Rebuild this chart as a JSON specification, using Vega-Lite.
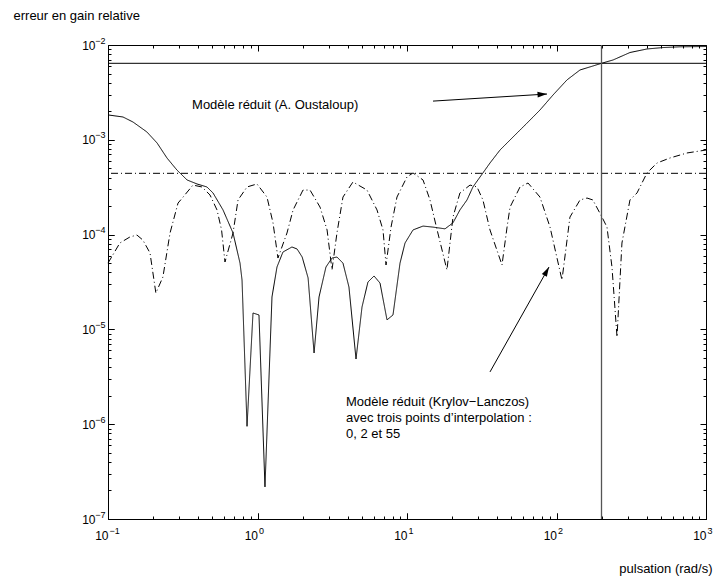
{
  "$schema": "https://vega.github.io/schema/vega-lite/v6.json",
  "width": 598,
  "height": 474,
  "autosize": {"type": "none"},
  "padding": {"left": 108, "top": 45, "right": 12, "bottom": 62},
  "background": "white",
  "config": {
    "view": {"stroke": null},
    "font": "Liberation Sans",
    "axis": {
      "grid": false,
      "labelFont": "Liberation Sans",
      "labelFontSize": 12,
      "labelColor": "black",
      "tickColor": "black",
      "tickWidth": 1,
      "domainColor": "black",
      "domainWidth": 1,
      "titleFont": "Liberation Sans",
      "titleFontSize": 13,
      "titleFontWeight": "normal",
      "titleColor": "black",
      "labelFlush": false,
      "labelOverlap": false
    }
  },
  "datasets": {
    "courbes": [
      {"serie": "Oustaloup", "w": 0.1, "e": 0.00183},
      {"serie": "Oustaloup", "w": 0.126, "e": 0.00174},
      {"serie": "Oustaloup", "w": 0.147, "e": 0.00154},
      {"serie": "Oustaloup", "w": 0.182, "e": 0.00121},
      {"serie": "Oustaloup", "w": 0.213, "e": 0.000925},
      {"serie": "Oustaloup", "w": 0.248, "e": 0.000643},
      {"serie": "Oustaloup", "w": 0.289, "e": 0.00048},
      {"serie": "Oustaloup", "w": 0.338, "e": 0.000377},
      {"serie": "Oustaloup", "w": 0.394, "e": 0.000342},
      {"serie": "Oustaloup", "w": 0.459, "e": 0.000318},
      {"serie": "Oustaloup", "w": 0.504, "e": 0.000275},
      {"serie": "Oustaloup", "w": 0.588, "e": 0.000182},
      {"serie": "Oustaloup", "w": 0.686, "e": 0.000104},
      {"serie": "Oustaloup", "w": 0.764, "e": 0.00005},
      {"serie": "Oustaloup", "w": 0.788, "e": 0.0000332},
      {"serie": "Oustaloup", "w": 0.851, "e": 0.00000095},
      {"serie": "Oustaloup", "w": 0.933, "e": 0.0000149},
      {"serie": "Oustaloup", "w": 1.023, "e": 0.0000142},
      {"serie": "Oustaloup", "w": 1.122, "e": 0.000000218},
      {"serie": "Oustaloup", "w": 1.25, "e": 0.000022},
      {"serie": "Oustaloup", "w": 1.35, "e": 0.0000455},
      {"serie": "Oustaloup", "w": 1.48, "e": 0.0000655},
      {"serie": "Oustaloup", "w": 1.7, "e": 0.000074},
      {"serie": "Oustaloup", "w": 1.84, "e": 0.0000705},
      {"serie": "Oustaloup", "w": 1.99, "e": 0.000058},
      {"serie": "Oustaloup", "w": 2.18, "e": 0.0000349},
      {"serie": "Oustaloup", "w": 2.39, "e": 0.00000564},
      {"serie": "Oustaloup", "w": 2.58, "e": 0.000022},
      {"serie": "Oustaloup", "w": 2.87, "e": 0.0000455},
      {"serie": "Oustaloup", "w": 3.15, "e": 0.0000566},
      {"serie": "Oustaloup", "w": 3.4, "e": 0.000058},
      {"serie": "Oustaloup", "w": 3.73, "e": 0.00005},
      {"serie": "Oustaloup", "w": 4.09, "e": 0.000028},
      {"serie": "Oustaloup", "w": 4.56, "e": 0.00000487},
      {"serie": "Oustaloup", "w": 5.0, "e": 0.0000172},
      {"serie": "Oustaloup", "w": 5.48, "e": 0.0000316},
      {"serie": "Oustaloup", "w": 6.02, "e": 0.0000366},
      {"serie": "Oustaloup", "w": 6.6, "e": 0.0000308},
      {"serie": "Oustaloup", "w": 7.35, "e": 0.0000126},
      {"serie": "Oustaloup", "w": 8.06, "e": 0.0000142},
      {"serie": "Oustaloup", "w": 8.98, "e": 0.00005},
      {"serie": "Oustaloup", "w": 9.7, "e": 0.0000815},
      {"serie": "Oustaloup", "w": 10.97, "e": 0.000112},
      {"serie": "Oustaloup", "w": 12.8, "e": 0.000123},
      {"serie": "Oustaloup", "w": 14.9, "e": 0.00012},
      {"serie": "Oustaloup", "w": 17.96, "e": 0.000115},
      {"serie": "Oustaloup", "w": 20.3, "e": 0.000133},
      {"serie": "Oustaloup", "w": 22.6, "e": 0.000182},
      {"serie": "Oustaloup", "w": 25.2, "e": 0.000232},
      {"serie": "Oustaloup", "w": 27.6, "e": 0.000318},
      {"serie": "Oustaloup", "w": 32.2, "e": 0.000447},
      {"serie": "Oustaloup", "w": 35.9, "e": 0.000569},
      {"serie": "Oustaloup", "w": 41.9, "e": 0.00078},
      {"serie": "Oustaloup", "w": 51.2, "e": 0.00107},
      {"serie": "Oustaloup", "w": 63.5, "e": 0.0015},
      {"serie": "Oustaloup", "w": 77.5, "e": 0.00206},
      {"serie": "Oustaloup", "w": 94.8, "e": 0.00297},
      {"serie": "Oustaloup", "w": 117.5, "e": 0.00428},
      {"serie": "Oustaloup", "w": 143.6, "e": 0.00545},
      {"serie": "Oustaloup", "w": 175, "e": 0.006},
      {"serie": "Oustaloup", "w": 200, "e": 0.00641},
      {"serie": "Oustaloup", "w": 239, "e": 0.00695},
      {"serie": "Oustaloup", "w": 310, "e": 0.00833},
      {"serie": "Oustaloup", "w": 403, "e": 0.00908},
      {"serie": "Oustaloup", "w": 516, "e": 0.0094},
      {"serie": "Oustaloup", "w": 670, "e": 0.00957},
      {"serie": "Oustaloup", "w": 1000, "e": 0.00964},
      {"serie": "Krylov", "w": 0.1, "e": 0.00005},
      {"serie": "Krylov", "w": 0.12, "e": 0.0000815},
      {"serie": "Krylov", "w": 0.14, "e": 0.0000943},
      {"serie": "Krylov", "w": 0.156, "e": 0.000099},
      {"serie": "Krylov", "w": 0.171, "e": 0.0000877},
      {"serie": "Krylov", "w": 0.191, "e": 0.000064},
      {"serie": "Krylov", "w": 0.209, "e": 0.0000242},
      {"serie": "Krylov", "w": 0.233, "e": 0.0000357},
      {"serie": "Krylov", "w": 0.26, "e": 0.000104},
      {"serie": "Krylov", "w": 0.294, "e": 0.000215},
      {"serie": "Krylov", "w": 0.318, "e": 0.000249},
      {"serie": "Krylov", "w": 0.37, "e": 0.000333},
      {"serie": "Krylov", "w": 0.425, "e": 0.000318},
      {"serie": "Krylov", "w": 0.481, "e": 0.000262},
      {"serie": "Krylov", "w": 0.536, "e": 0.000182},
      {"serie": "Krylov", "w": 0.575, "e": 0.000112},
      {"serie": "Krylov", "w": 0.606, "e": 0.0000514},
      {"serie": "Krylov", "w": 0.686, "e": 0.000104},
      {"serie": "Krylov", "w": 0.741, "e": 0.000232},
      {"serie": "Krylov", "w": 0.851, "e": 0.000318},
      {"serie": "Krylov", "w": 0.992, "e": 0.000342},
      {"serie": "Krylov", "w": 1.157, "e": 0.000249},
      {"serie": "Krylov", "w": 1.27, "e": 0.000133},
      {"serie": "Krylov", "w": 1.37, "e": 0.0000566},
      {"serie": "Krylov", "w": 1.575, "e": 0.000104},
      {"serie": "Krylov", "w": 1.73, "e": 0.000182},
      {"serie": "Krylov", "w": 2.015, "e": 0.000295},
      {"serie": "Krylov", "w": 2.245, "e": 0.000295},
      {"serie": "Krylov", "w": 2.62, "e": 0.000195},
      {"serie": "Krylov", "w": 2.92, "e": 0.000112},
      {"serie": "Krylov", "w": 3.15, "e": 0.0000424},
      {"serie": "Krylov", "w": 3.4, "e": 0.000104},
      {"serie": "Krylov", "w": 3.73, "e": 0.000249},
      {"serie": "Krylov", "w": 4.35, "e": 0.000359},
      {"serie": "Krylov", "w": 5.4, "e": 0.000295},
      {"serie": "Krylov", "w": 6.3, "e": 0.000182},
      {"serie": "Krylov", "w": 6.91, "e": 0.000112},
      {"serie": "Krylov", "w": 7.24, "e": 0.0000478},
      {"serie": "Krylov", "w": 7.82, "e": 0.00012},
      {"serie": "Krylov", "w": 8.57, "e": 0.000249},
      {"serie": "Krylov", "w": 10.0, "e": 0.000406},
      {"serie": "Krylov", "w": 10.97, "e": 0.000447},
      {"serie": "Krylov", "w": 12.8, "e": 0.000377},
      {"serie": "Krylov", "w": 14.25, "e": 0.000232},
      {"serie": "Krylov", "w": 15.9, "e": 0.000112},
      {"serie": "Krylov", "w": 18.5, "e": 0.0000424},
      {"serie": "Krylov", "w": 20.3, "e": 0.000153},
      {"serie": "Krylov", "w": 22.6, "e": 0.000275},
      {"serie": "Krylov", "w": 26.4, "e": 0.000333},
      {"serie": "Krylov", "w": 29.4, "e": 0.000318},
      {"serie": "Krylov", "w": 32.2, "e": 0.000232},
      {"serie": "Krylov", "w": 35.9, "e": 0.000112},
      {"serie": "Krylov", "w": 43.2, "e": 0.0000478},
      {"serie": "Krylov", "w": 46.7, "e": 0.00012},
      {"serie": "Krylov", "w": 48.9, "e": 0.000195},
      {"serie": "Krylov", "w": 57.0, "e": 0.000318},
      {"serie": "Krylov", "w": 64.5, "e": 0.00035},
      {"serie": "Krylov", "w": 77.5, "e": 0.000249},
      {"serie": "Krylov", "w": 90.5, "e": 0.00012},
      {"serie": "Krylov", "w": 108.8, "e": 0.0000332},
      {"serie": "Krylov", "w": 123, "e": 0.000153},
      {"serie": "Krylov", "w": 143.6, "e": 0.000232},
      {"serie": "Krylov", "w": 160, "e": 0.000243},
      {"serie": "Krylov", "w": 175, "e": 0.000232},
      {"serie": "Krylov", "w": 201.5, "e": 0.000153},
      {"serie": "Krylov", "w": 217.6, "e": 0.00012},
      {"serie": "Krylov", "w": 235, "e": 0.0000455},
      {"serie": "Krylov", "w": 254, "e": 0.0000083},
      {"serie": "Krylov", "w": 274, "e": 0.0000815},
      {"serie": "Krylov", "w": 310, "e": 0.000232},
      {"serie": "Krylov", "w": 345.6, "e": 0.000275},
      {"serie": "Krylov", "w": 403, "e": 0.000447},
      {"serie": "Krylov", "w": 470, "e": 0.000569},
      {"serie": "Krylov", "w": 574, "e": 0.000643},
      {"serie": "Krylov", "w": 746, "e": 0.000726},
      {"serie": "Krylov", "w": 1000, "e": 0.00078}
    ],
    "seuils": [
      {"serie": "Oustaloup", "e": 0.00641},
      {"serie": "Krylov", "e": 0.000443}
    ],
    "coupure": [{"w": 200}],
    "textes": [
      {"w": 0.365, "e": 0.00233, "texte": "Modèle réduit (A. Oustaloup)"},
      {"w": 3.91, "e": 0.00000171, "texte": "Modèle réduit (Krylov−Lanczos)"},
      {"w": 3.91, "e": 0.00000116, "texte": "avec trois points d’interpolation :"},
      {"w": 3.91, "e": 0.000000788, "texte": "0, 2 et 55"}
    ],
    "fleches": [
      {"fleche": 1, "w": 14.93, "e": 0.00256},
      {"fleche": 1, "w": 86.4, "e": 0.00304},
      {"fleche": 2, "w": 35.9, "e": 0.00000356},
      {"fleche": 2, "w": 89.1, "e": 0.0000455}
    ],
    "pointes": [
      {"fleche": 1, "w": 86.4, "e": 0.00304},
      {"fleche": 2, "w": 89.1, "e": 0.0000455}
    ]
  },
  "layer": [
    {
      "data": {"name": "courbes"},
      "mark": {"type": "line", "color": "black", "strokeWidth": 1, "interpolate": "linear"},
      "encoding": {
        "x": {
          "field": "w", "type": "quantitative",
          "scale": {"type": "log", "domain": [0.1, 1000], "nice": false},
          "axis": {
            "orient": "bottom",
            "values": [0.1, 1, 10, 100, 1000],
            "labelExpr": "'10'",
            "labelAlign": "right",
            "labelBaseline": "middle",
            "labelOffset": 0,
            "tickSize": -6,
            "labelPadding": 22.5,
            "domain": true,
            "title": "pulsation (rad/s)",
            "titleAngle": 0,
            "titleAlign": "right",
            "titleBaseline": "middle",
            "titleX": 604,
            "titleY": 49
          }
        },
        "y": {
          "field": "e", "type": "quantitative",
          "scale": {"type": "log", "domain": [1e-7, 0.01], "nice": false},
          "axis": {
            "orient": "left",
            "values": [1e-7, 1e-6, 1e-5, 1e-4, 1e-3, 1e-2],
            "labelExpr": "'10'",
            "labelAlign": "right",
            "labelBaseline": "middle",
            "tickSize": -6,
            "labelPadding": 19,
            "domain": true,
            "title": "erreur en gain relative",
            "titleAngle": 0,
            "titleAlign": "left",
            "titleBaseline": "middle",
            "titleX": -95,
            "titleY": -30
          }
        },
        "detail": {"field": "serie"},
        "strokeDash": {
          "field": "serie", "type": "nominal",
          "scale": {"domain": ["Oustaloup", "Krylov"], "range": [[1, 0], [7, 3, 1, 3]]},
          "legend": null
        }
      }
    },
    {
      "data": {"name": "textes"},
      "mark": {"type": "text", "align": "left", "baseline": "middle", "fontSize": 13, "font": "Liberation Sans", "color": "black"},
      "encoding": {
        "x": {
          "field": "w", "type": "quantitative",
          "scale": {"type": "log", "domain": [0.1, 1000], "nice": false},
          "axis": {
            "orient": "bottom",
            "values": [0.2, 0.3, 0.4, 0.5, 0.6, 0.7, 0.8, 0.9, 2, 3, 4, 5, 6, 7, 8, 9, 20, 30, 40, 50, 60, 70, 80, 90, 200, 300, 400, 500, 600, 700, 800, 900],
            "labels": false, "domain": false, "tickSize": -3, "title": null
          }
        },
        "y": {
          "field": "e", "type": "quantitative",
          "scale": {"type": "log", "domain": [1e-7, 0.01], "nice": false},
          "axis": {
            "orient": "left",
            "values": [2e-7, 3e-7, 4e-7, 5e-7, 6e-7, 7e-7, 8e-7, 9e-7, 2e-6, 3e-6, 4e-6, 5e-6, 6e-6, 7e-6, 8e-6, 9e-6, 2e-5, 3e-5, 4e-5, 5e-5, 6e-5, 7e-5, 8e-5, 9e-5, 2e-4, 3e-4, 4e-4, 5e-4, 6e-4, 7e-4, 8e-4, 9e-4, 2e-3, 3e-3, 4e-3, 5e-3, 6e-3, 7e-3, 8e-3, 9e-3],
            "labels": false, "domain": false, "tickSize": -3, "title": null
          }
        },
        "text": {"field": "texte"}
      }
    },
    {
      "data": {"name": "fleches"},
      "mark": {"type": "line", "color": "black", "strokeWidth": 1},
      "encoding": {
        "x": {
          "field": "w", "type": "quantitative",
          "scale": {"type": "log", "domain": [0.1, 1000], "nice": false},
          "axis": {
            "orient": "top",
            "values": [0.1, 1, 10, 100, 1000],
            "labels": false, "domain": true, "tickSize": -6, "title": null
          }
        },
        "y": {
          "field": "e", "type": "quantitative",
          "scale": {"type": "log", "domain": [1e-7, 0.01], "nice": false},
          "axis": {
            "orient": "right",
            "values": [1e-7, 1e-6, 1e-5, 1e-4, 1e-3, 1e-2],
            "labels": false, "domain": true, "tickSize": -6, "title": null
          }
        },
        "detail": {"field": "fleche"}
      }
    },
    {
      "data": {"name": "pointes"},
      "transform": [{"filter": "datum.fleche == 1"}],
      "mark": {"type": "point", "shape": "M0,0L-2,-0.6L-2,0.6Z", "filled": true, "color": "black", "opacity": 1, "size": 90, "angle": -3.5},
      "encoding": {
        "x": {
          "field": "w", "type": "quantitative",
          "scale": {"type": "log", "domain": [0.1, 1000], "nice": false},
          "axis": {
            "orient": "top",
            "values": [0.2, 0.3, 0.4, 0.5, 0.6, 0.7, 0.8, 0.9, 2, 3, 4, 5, 6, 7, 8, 9, 20, 30, 40, 50, 60, 70, 80, 90, 200, 300, 400, 500, 600, 700, 800, 900],
            "labels": false, "domain": false, "tickSize": -3, "title": null
          }
        },
        "y": {
          "field": "e", "type": "quantitative",
          "scale": {"type": "log", "domain": [1e-7, 0.01], "nice": false},
          "axis": {
            "orient": "right",
            "values": [2e-7, 3e-7, 4e-7, 5e-7, 6e-7, 7e-7, 8e-7, 9e-7, 2e-6, 3e-6, 4e-6, 5e-6, 6e-6, 7e-6, 8e-6, 9e-6, 2e-5, 3e-5, 4e-5, 5e-5, 6e-5, 7e-5, 8e-5, 9e-5, 2e-4, 3e-4, 4e-4, 5e-4, 6e-4, 7e-4, 8e-4, 9e-4, 2e-3, 3e-3, 4e-3, 5e-3, 6e-3, 7e-3, 8e-3, 9e-3],
            "labels": false, "domain": false, "tickSize": -3, "title": null
          }
        }
      }
    },
    {
      "data": {"name": "pointes"},
      "transform": [{"filter": "datum.fleche == 2"}],
      "mark": {"type": "point", "shape": "M0,0L-2,-0.6L-2,0.6Z", "filled": true, "color": "black", "opacity": 1, "size": 90, "angle": -60.7},
      "encoding": {
        "x": {
          "field": "w", "type": "quantitative",
          "scale": {"type": "log", "domain": [0.1, 1000], "nice": false},
          "axis": {
            "orient": "bottom",
            "values": [0.1, 1, 10, 100, 1000],
            "labelExpr": "['−7','−6','−5','−4','−3','−2','−1','0','1','2','3'][round(log(datum.value)/LN10)+7]",
            "labelFontSize": 9,
            "labelAlign": "left",
            "labelBaseline": "middle",
            "labelOffset": 1,
            "tickSize": -6,
            "labelPadding": 17.5,
            "domain": false,
            "title": null
          }
        },
        "y": {
          "field": "e", "type": "quantitative",
          "scale": {"type": "log", "domain": [1e-7, 0.01], "nice": false},
          "axis": {
            "orient": "left",
            "values": [1e-7, 1e-6, 1e-5, 1e-4, 1e-3, 1e-2],
            "labelExpr": "['−7','−6','−5','−4','−3','−2','−1','0','1','2','3'][round(log(datum.value)/LN10)+7]",
            "labelFontSize": 9,
            "labelAlign": "right",
            "labelBaseline": "middle",
            "labelOffset": -5,
            "tickSize": -6,
            "labelPadding": 9,
            "domain": false,
            "title": null
          }
        }
      }
    },
    {
      "data": {"name": "seuils"},
      "mark": {"type": "rule", "color": "black", "strokeWidth": 1},
      "encoding": {
        "y": {"field": "e", "type": "quantitative", "scale": {"type": "log", "domain": [1e-7, 0.01], "nice": false}, "axis": null},
        "strokeDash": {
          "field": "serie", "type": "nominal",
          "scale": {"domain": ["Oustaloup", "Krylov"], "range": [[1, 0], [7, 3, 1, 3]]},
          "legend": null
        }
      }
    },
    {
      "data": {"name": "coupure"},
      "mark": {"type": "rule", "color": "#555555", "strokeWidth": 1.3},
      "encoding": {
        "x": {"field": "w", "type": "quantitative", "scale": {"type": "log", "domain": [0.1, 1000], "nice": false}, "axis": null}
      }
    }
  ],
  "resolve": {"axis": {"x": "independent", "y": "independent"}}
}
